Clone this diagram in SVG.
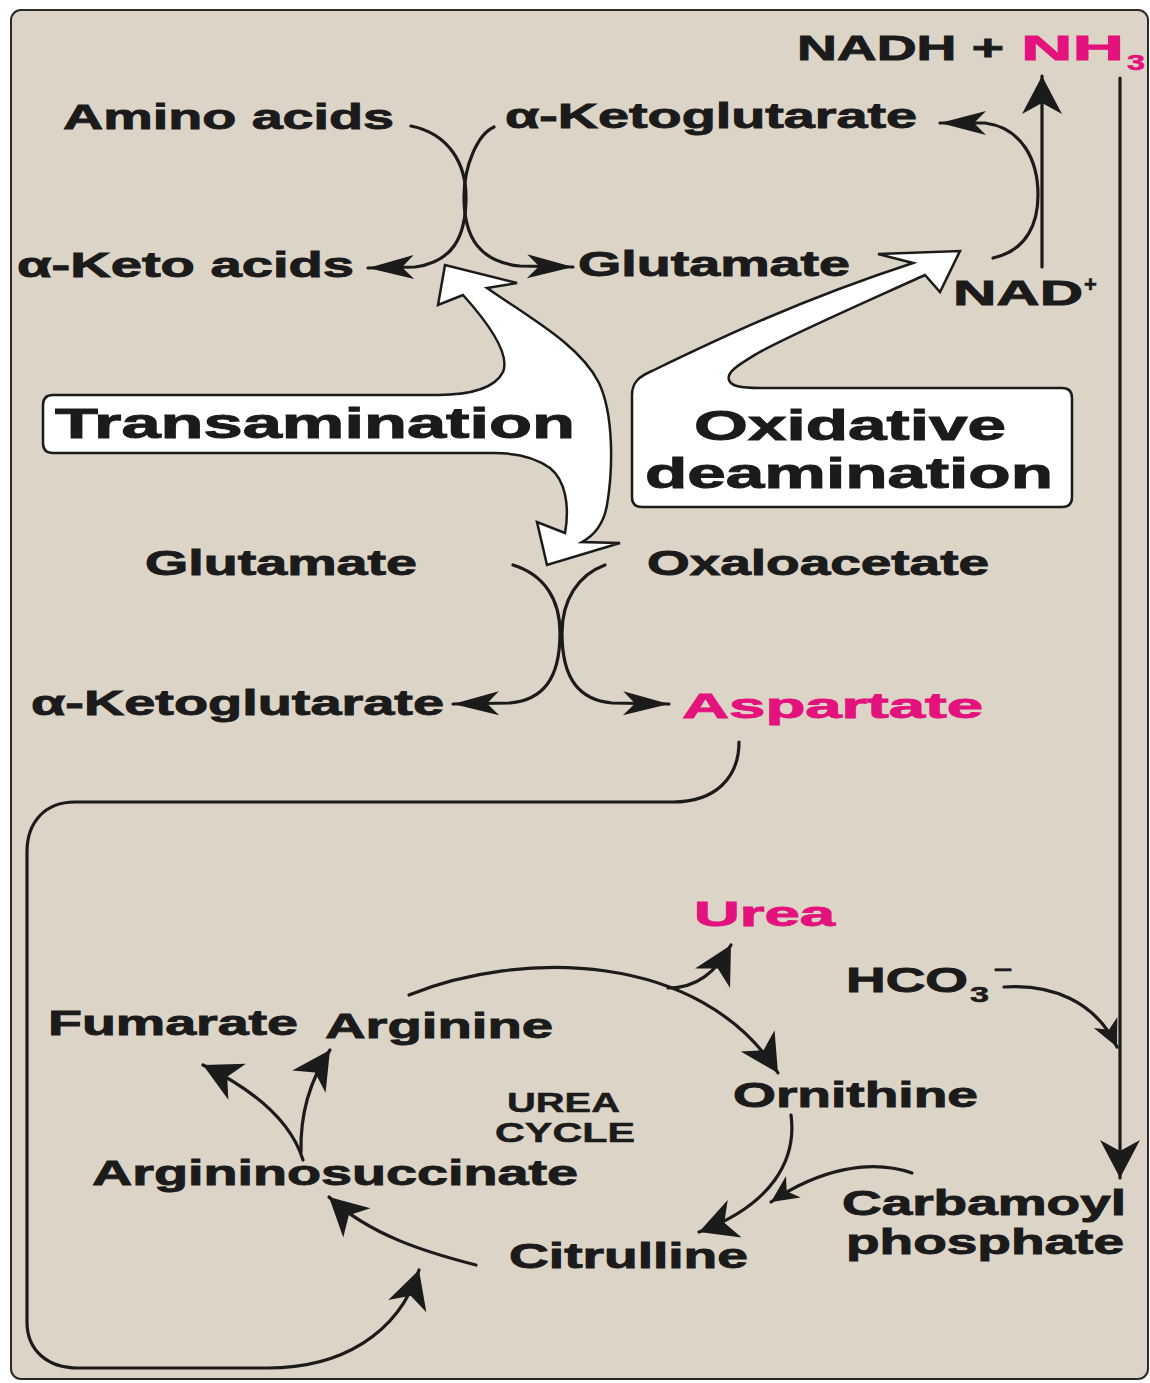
<svg xmlns="http://www.w3.org/2000/svg" width="1150" height="1383" viewBox="0 0 1150 1383">
<defs>
<style>
.t{font-family:"Liberation Sans",Arial,Helvetica,sans-serif;font-weight:bold;font-size:35px;fill:#1b1b1b;stroke:#1b1b1b;stroke-width:0.9}
.m{fill:#e3127d;stroke:#e3127d}
.big{font-size:43px;stroke-width:1}
.sm{font-size:27px;stroke-width:0.5}
.sub{font-size:22px;stroke-width:0.6}
.ln{fill:none;stroke:#1b1b1b;stroke-width:3.2;stroke-linecap:round;stroke-linejoin:round}
.wa{fill:#ffffff;stroke:#1b1b1b;stroke-width:2.5;stroke-linejoin:miter}
</style>
<marker id="a1" viewBox="-50 -14 52 28" refX="0" refY="0" markerWidth="52" markerHeight="28" orient="auto" markerUnits="userSpaceOnUse"><path d="M0,0 L-46,-12 L-34,0 L-46,12 Z" fill="#1b1b1b"/></marker>
<marker id="a2" viewBox="-40 -24 42 48" refX="0" refY="0" markerWidth="42" markerHeight="48" orient="auto" markerUnits="userSpaceOnUse"><path d="M0,0 L-38,-20 L-27,0 L-38,20 Z" fill="#1b1b1b"/></marker>
<marker id="a3" viewBox="-30 -16 32 32" refX="0" refY="0" markerWidth="32" markerHeight="32" orient="auto" markerUnits="userSpaceOnUse"><path d="M0,0 L-27,-13 L-19,0 L-27,13 Z" fill="#1b1b1b"/></marker>
</defs>
<rect x="0" y="0" width="1150" height="1383" fill="#ffffff"/>
<rect x="11" y="10" width="1137" height="1369" rx="10" fill="#dcd4c7" stroke="#2a2a2a" stroke-width="2"/>

<g id="connectors">
<path class="ln" d="M411,126 C450,134 466,165 466,197 C466,238 452,262 415,267 L368,268" marker-end="url(#a1)"/>
<path class="ln" d="M494,127 C478,134 464,165 464,197 C464,238 480,262 520,266 L573,267" marker-end="url(#a1)"/>
<path class="ln" d="M993,258 C1028,250 1038,222 1038,195 C1038,160 1022,128 985,123 L940,123" marker-end="url(#a1)"/>
<path class="ln" d="M1042,267 L1042,76" marker-end="url(#a2)"/>
<path class="ln" d="M1120,78 L1120,1178" marker-end="url(#a2)"/>
<path class="ln" d="M1004,987 C1050,984 1095,1000 1117,1047" marker-end="url(#a3)"/>
<path class="ln" d="M513,565 C545,575 560,600 560,633 C560,680 542,700 510,703 L453,704" marker-end="url(#a1)"/>
<path class="ln" d="M605,565 C578,575 562,600 562,633 C562,680 580,700 612,703 L669,704" marker-end="url(#a1)"/>
<path class="ln" d="M739,742 C739,778 715,802 673,802 L75,802 C45,802 27,822 27,852 L27,1322 C27,1350 47,1368 78,1368 L268,1368 C340,1368 398,1335 419,1270" marker-end="url(#a2)"/>
<path class="ln" d="M409,995 C520,950 700,950 778,1073" marker-end="url(#a2)"/>
<path class="ln" d="M668,988 C697,988 716,972 731,945" marker-end="url(#a2)"/>
<path class="ln" d="M791,1115 C797,1160 772,1205 699,1232" marker-end="url(#a2)"/>
<path class="ln" d="M912,1173 C870,1158 818,1170 771,1202" marker-end="url(#a3)"/>
<path class="ln" d="M476,1265 C425,1252 370,1235 329,1197" marker-end="url(#a2)"/>
<path class="ln" d="M303,1160 C290,1118 250,1088 203,1065" marker-end="url(#a2)"/>
<path class="ln" d="M301,1152 C300,1112 310,1080 330,1050" marker-end="url(#a2)"/>
</g>

<g id="transamination">
<path class="wa" d="M53,395 L438,395 C470,395 495,388 503,372 C510,355 490,325 463,295 L438,305 L445,265 L517,283 L487,288 C530,318 580,345 599,383 C614,415 613,470 607,505 C604,522 595,535 582,542 L620,543 L547,565 L537,522 L565,533 C570,505 565,480 550,468 C535,457 515,453 494,453 L53,453 Q43,453 43,443 L43,405 Q43,395 53,395 Z"/>
<text class="t big" x="55" y="438" textLength="520" lengthAdjust="spacingAndGlyphs">Transamination</text>
</g>

<g id="oxidative-deamination">
<path class="wa" d="M632,497 L632,395 C632,382 640,376 652,371 C720,338 800,300 913,263 L878,254 L960,251 L940,292 L925,275 C870,300 790,335 758,353 C740,364 726,372 729,380 C731,386 740,388 760,388 L1062,388 Q1072,388 1072,398 L1072,497 Q1072,507 1062,507 L642,507 Q632,507 632,497 Z"/>
<text class="t big" x="694" y="440" textLength="312" lengthAdjust="spacingAndGlyphs">Oxidative</text>
<text class="t big" x="645" y="488" textLength="408" lengthAdjust="spacingAndGlyphs">deamination</text>
</g>

<g id="nadh-nh3">
<text class="t" x="797" y="60" textLength="207" lengthAdjust="spacingAndGlyphs">NADH +</text>
<text class="t m" x="1021" y="60" textLength="103" lengthAdjust="spacingAndGlyphs">NH</text>
<text class="t m sub" x="1127" y="70" textLength="18" lengthAdjust="spacingAndGlyphs">3</text>
</g>
<g id="amino-acids"><text class="t" x="63" y="129" textLength="331" lengthAdjust="spacingAndGlyphs">Amino acids</text></g>
<g id="aketoglutarate-1"><text class="t" x="505" y="128" textLength="412" lengthAdjust="spacingAndGlyphs">α-Ketoglutarate</text></g>
<g id="aketo-acids"><text class="t" x="17" y="277" textLength="337" lengthAdjust="spacingAndGlyphs">α-Keto acids</text></g>
<g id="glutamate-1"><text class="t" x="578" y="276" textLength="272" lengthAdjust="spacingAndGlyphs">Glutamate</text></g>
<g id="nad">
<text class="t" x="953" y="305" textLength="130" lengthAdjust="spacingAndGlyphs">NAD</text>
<text class="t sub" x="1084" y="292">+</text>
</g>
<g id="glutamate-2"><text class="t" x="145" y="575" textLength="272" lengthAdjust="spacingAndGlyphs">Glutamate</text></g>
<g id="oxaloacetate"><text class="t" x="647" y="575" textLength="342" lengthAdjust="spacingAndGlyphs">Oxaloacetate</text></g>
<g id="aketoglutarate-2"><text class="t" x="31" y="715" textLength="413" lengthAdjust="spacingAndGlyphs">α-Ketoglutarate</text></g>
<g id="aspartate"><text class="t m" x="682" y="718" textLength="301" lengthAdjust="spacingAndGlyphs">Aspartate</text></g>
<g id="urea"><text class="t m" x="694" y="926" textLength="141" lengthAdjust="spacingAndGlyphs">Urea</text></g>
<g id="hco3">
<text class="t" x="846" y="992" textLength="122" lengthAdjust="spacingAndGlyphs">HCO</text>
<text class="t sub" x="970" y="1002" textLength="19" lengthAdjust="spacingAndGlyphs">3</text>
<text class="t sub" x="994" y="976" textLength="18" lengthAdjust="spacingAndGlyphs">–</text>
</g>
<g id="fumarate"><text class="t" x="48" y="1035" textLength="250" lengthAdjust="spacingAndGlyphs">Fumarate</text></g>
<g id="arginine"><text class="t" x="325" y="1038" textLength="228" lengthAdjust="spacingAndGlyphs">Arginine</text></g>
<g id="urea-cycle">
<text class="t sm" x="507" y="1112" textLength="113" lengthAdjust="spacingAndGlyphs">UREA</text>
<text class="t sm" x="495" y="1142" textLength="140" lengthAdjust="spacingAndGlyphs">CYCLE</text>
</g>
<g id="ornithine"><text class="t" x="733" y="1107" textLength="245" lengthAdjust="spacingAndGlyphs">Ornithine</text></g>
<g id="argininosuccinate"><text class="t" x="92" y="1185" textLength="486" lengthAdjust="spacingAndGlyphs">Argininosuccinate</text></g>
<g id="carbamoyl-phosphate">
<text class="t" x="842" y="1215" textLength="284" lengthAdjust="spacingAndGlyphs">Carbamoyl</text>
<text class="t" x="846" y="1254" textLength="278" lengthAdjust="spacingAndGlyphs">phosphate</text>
</g>
<g id="citrulline"><text class="t" x="509" y="1268" textLength="239" lengthAdjust="spacingAndGlyphs">Citrulline</text></g>
</svg>
